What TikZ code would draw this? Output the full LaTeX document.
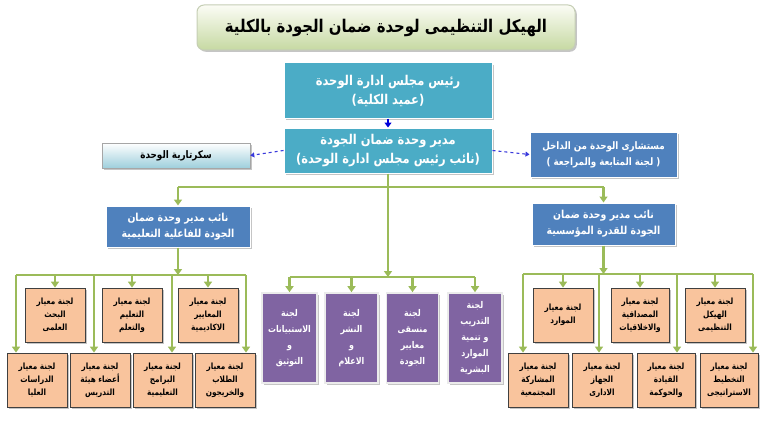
\documentclass[tikz,border=0pt]{standalone}
\usepackage{fontspec}
\usetikzlibrary{shadows,arrows.meta}
\TeXXeTstate=1
\newfontfamily\arabicfont[Script=Arabic,FakeStretch=0.85]{DejaVu Sans}
\newcommand\artx[1]{\beginR #1\endR}
\definecolor{cTeal}{HTML}{4BACC6}
\definecolor{cBlue}{HTML}{4F81BD}
\definecolor{cSalmon}{HTML}{F9C49D}
\definecolor{cPurple}{HTML}{8064A2}
\definecolor{cGreen}{HTML}{9BBB59}
\definecolor{cDash}{HTML}{3A3ADC}
\definecolor{cTitleTop}{HTML}{FBFCF5}
\definecolor{cTitleBot}{HTML}{C6D9A2}
\definecolor{cSecBot}{HTML}{9ECFDC}
\tikzset{
  shad/.style={drop shadow={shadow xshift=1.8pt,shadow yshift=-1.8pt,fill=black!45}},
  tealbox/.style={shad,fill=cTeal,draw=white,line width=1pt,text=white,align=center,inner sep=0pt,
    font=\arabicfont\bfseries\fontsize{13.5}{19}\selectfont,minimum width=208pt},
  bluebox/.style={shad,fill=cBlue,draw=white,line width=1pt,text=white,align=center,inner sep=0pt,
    font=\arabicfont\bfseries\fontsize{11}{16}\selectfont},
  salbox/.style={shad,fill=cSalmon,draw=black!75,line width=0.8pt,text=black,align=center,inner sep=0pt,
    font=\arabicfont\bfseries\fontsize{8.6}{13}\selectfont,minimum width=60pt,minimum height=54pt},
  purbox/.style={shad,fill=cPurple,draw=black!8,line width=1.6pt,text=white,align=center,inner sep=0pt,
    font=\arabicfont\bfseries\fontsize{9.3}{16}\selectfont,minimum width=55pt,minimum height=90pt},
  gline/.style={draw=cGreen,line width=2.6pt},
  garrow/.style={gline,-{Triangle[width=8pt,length=6pt]}},
  dasharrow/.style={draw=cDash,line width=1.1pt,dashed,-{Triangle[width=5pt,length=4pt]}},
}
\begin{document}
\begin{tikzpicture}[x=1pt,y=-1pt]
\useasboundingbox (0,0) rectangle (770,425);
% title
\node[shad,draw=cTitleBot!80!black!60,line width=1pt,rounded corners=7pt,top color=cTitleTop,bottom color=cTitleBot,
  minimum width=378pt,minimum height=45pt,inner sep=0pt,font=\arabicfont\bfseries\fontsize{17.5}{20}\selectfont]
  (title) at (386,27.5) {\artx{الهيكل التنظيمى لوحدة ضمان الجودة بالكلية}};
% top hierarchy
\node[tealbox,minimum height=55pt] (chair) at (388,90.5) {\artx{رئيس مجلس ادارة الوحدة}\\\artx{(عميد الكلية)}};
\node[tealbox,minimum height=45pt] (mgr) at (388,150.5) {\artx{مدير وحدة ضمان الجودة}\\\artx{(نائب رئيس مجلس ادارة الوحدة)}};
\node[shad,draw=black!35,line width=0.6pt,top color=white,bottom color=cSecBot,minimum width=148pt,minimum height=25pt,inner sep=0pt,
  font=\arabicfont\bfseries\fontsize{10.4}{11}\selectfont] (sec) at (176,155.5) {\artx{سكرتارية الوحدة}};
\node[bluebox,minimum width=147pt,minimum height=45pt,font=\arabicfont\bfseries\fontsize{10.3}{16}\selectfont] (adv) at (603.5,154.5) {\artx{مستشارى الوحدة من الداخل}\\\artx{( لجنة المتابعة والمراجعة )}};
\node[bluebox,minimum width=144pt,minimum height=41pt] (dl) at (178,226.5) {\artx{نائب مدير وحدة ضمان}\\\artx{الجودة للفاعلية التعليمية}};
\node[bluebox,minimum width=143pt,minimum height=42pt] (dr) at (603.5,224) {\artx{نائب مدير وحدة ضمان}\\\artx{الجودة للقدرة المؤسسية}};
% left committees
\node[salbox] (l1) at (55,315) {\artx{لجنة معيار}\\\artx{البحث}\\\artx{العلمى}};
\node[salbox] (l2) at (132,315) {\artx{لجنة معيار}\\\artx{التعليم}\\\artx{والتعلم}};
\node[salbox] (l3) at (208,315) {\artx{لجنة معيار}\\\artx{المعايير}\\\artx{الاكاديمية}};
\node[salbox] (l4) at (37,380) {\artx{لجنة معيار}\\\artx{الدراسات}\\\artx{العليا}};
\node[salbox] (l5) at (100,380) {\artx{لجنة معيار}\\\artx{أعضاء هيئة}\\\artx{التدريس}};
\node[salbox,minimum width=59pt] (l6) at (162.5,380) {\artx{لجنة معيار}\\\artx{البرامج}\\\artx{التعليمية}};
\node[salbox] (l7) at (225,380) {\artx{لجنة معيار}\\\artx{الطلاب}\\\artx{والخريجون}};
% right committees
\node[salbox] (r1) at (563,315) {\artx{لجنة معيار}\\\artx{الموارد}};
\node[salbox,minimum width=58pt] (r2) at (640,315) {\artx{لجنة معيار}\\\artx{المصداقية}\\\artx{والاخلاقيات}};
\node[salbox] (r3) at (715,315) {\artx{لجنة معيار}\\\artx{الهيكل}\\\artx{التنظيمى}};
\node[salbox] (r4) at (538,380) {\artx{لجنة معيار}\\\artx{المشاركة}\\\artx{المجتمعية}};
\node[salbox] (r5) at (602,380) {\artx{لجنة معيار}\\\artx{الجهاز}\\\artx{الادارى}};
\node[salbox,minimum width=58pt] (r6) at (666,380) {\artx{لجنة معيار}\\\artx{القيادة}\\\artx{والحوكمة}};
\node[salbox,minimum width=58pt] (r7) at (729,380) {\artx{لجنة معيار}\\\artx{التخطيط}\\\artx{الاستراتيجى}};
% central committees
\node[purbox] (p1) at (289.5,338) {\artx{لجنة}\\\artx{الاستبيانات}\\\artx{و}\\\artx{التوثيق}};
\node[purbox,minimum width=53pt] (p2) at (351.5,338) {\artx{لجنة}\\\artx{النشر}\\\artx{و}\\\artx{الاعلام}};
\node[purbox,minimum width=52pt] (p3) at (412.5,338) {\artx{لجنة}\\\artx{منسقى}\\\artx{معايير}\\\artx{الجودة}};
\node[purbox,minimum width=54pt] (p4) at (475,338) {\artx{لجنة}\\\artx{التدريب}\\\artx{و تنمية}\\\artx{الموارد}\\\artx{البشرية}};
% connectors top
\draw[draw=blue!85!black,line width=2pt,-{Triangle[width=7pt,length=5pt]}] (chair.south) -- (mgr.north);
\draw[dasharrow] (mgr.west) -- (sec.east);
\draw[dasharrow] (mgr.east) -- (adv.west);
\coordinate (tb) at (388,187);
\draw[gline] (dl.north |- tb) -- (dr.north |- tb);
\draw[garrow] (dl.north |- tb) -- (dl.north);
\draw[garrow] (dr.north |- tb) -- (dr.north);
% center bus
\coordinate (cb) at (388,277);
\draw[garrow] (mgr.south) -- (cb);
\draw[gline] (p1.north |- cb) -- (p4.north |- cb);
\foreach \p in {p1,p2,p3,p4} \draw[garrow] (\p.north |- cb) -- (\p.north);
% left bus
\coordinate (lb) at (176,275);
\coordinate (lbA) at (16,275);
\coordinate (lbB) at (246,275);
\draw[garrow] (dl.south) -- (dl.south |- lb);
\draw[gline] (lbA) -- (lbB);
\foreach \p in {l1,l2,l3} \draw[garrow] (\p.north |- lb) -- (\p.north);
\draw[garrow] (lbA) -- (lbA |- l4.north);
\draw[garrow] ([xshift=-6pt]l5.north |- lb) -- ([xshift=-6pt]l5.north);
\draw[garrow] ([xshift=9.5pt]l6.north |- lb) -- ([xshift=9.5pt]l6.north);
\draw[garrow] (lbB) -- (lbB |- l7.north);
% right bus
\coordinate (rb) at (602,274);
\coordinate (rbA) at (523,274);
\coordinate (rbB) at (753,274);
\draw[garrow] (dr.south) -- (dr.south |- rb);
\draw[gline] (rbA) -- (rbB);
\foreach \p in {r1,r2,r3} \draw[garrow] (\p.north |- rb) -- (\p.north);
\draw[garrow] (rbA) -- (rbA |- r4.north);
\draw[garrow] ([xshift=-3pt]r5.north |- rb) -- ([xshift=-3pt]r5.north);
\draw[garrow] ([xshift=11pt]r6.north |- rb) -- ([xshift=11pt]r6.north);
\draw[garrow] (rbB) -- (rbB |- r7.north);
\end{tikzpicture}
\end{document}
